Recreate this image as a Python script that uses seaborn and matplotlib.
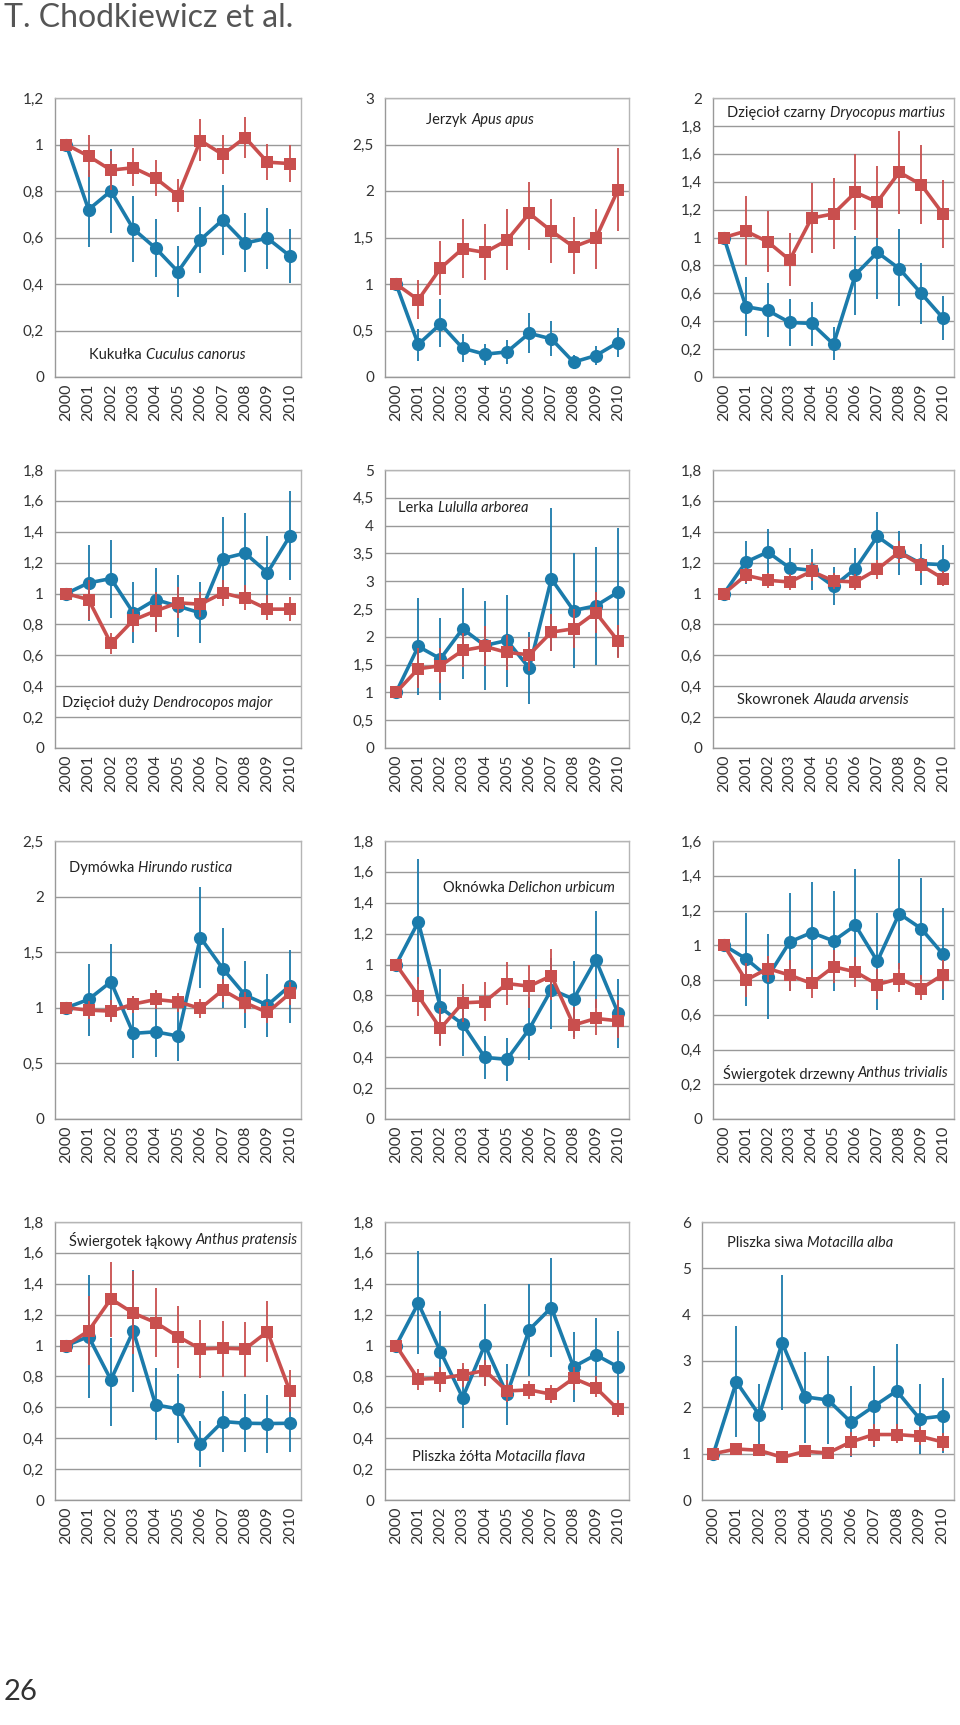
import numpy as np
import matplotlib
matplotlib.use("Agg")
import matplotlib.pyplot as plt
import seaborn as sns

# Years on the x axis
years = ["2000", "2001", "2002", "2003", "2004", "2005", "2006", "2007", "2008", "2009", "2010"]

# Kukułka Cuculus canorus
cuc_b = [1, 0.72, 0.80, 0.637, 0.554, 0.453, 0.59, 0.676, 0.576, 0.597, 0.521]
cuc_b_lo = [1, 0.558, 0.619, 0.496, 0.429, 0.345, 0.449, 0.525, 0.453, 0.465, 0.403]
cuc_b_hi = [1, 0.89, 0.98, 0.78, 0.679, 0.564, 0.73, 0.827, 0.705, 0.727, 0.637]
cuc_r = [1, 0.95, 0.89, 0.90, 0.855, 0.78, 1.017, 0.957, 1.03, 0.924, 0.918]
cuc_r_lo = [1, 0.86, 0.806, 0.823, 0.777, 0.708, 0.928, 0.875, 0.942, 0.846, 0.84]
cuc_r_hi = [1, 1.04, 0.974, 0.985, 0.935, 0.85, 1.108, 1.04, 1.12, 1.004, 0.999]

# Jerzyk Apus apus
apu_b = [1, 0.35, 0.57, 0.31, 0.245, 0.27, 0.47, 0.41, 0.16, 0.23, 0.37]
apu_b_lo = [1, 0.17, 0.32, 0.16, 0.126, 0.137, 0.253, 0.224, 0.09, 0.126, 0.21]
apu_b_hi = [1, 0.52, 0.84, 0.46, 0.36, 0.40, 0.686, 0.60, 0.235, 0.336, 0.53]
apu_r = [1, 0.83, 1.17, 1.38, 1.34, 1.47, 1.76, 1.57, 1.40, 1.49, 2.01]
apu_r_lo = [1, 0.62, 0.88, 1.065, 1.04, 1.15, 1.37, 1.227, 1.105, 1.16, 1.574]
apu_r_hi = [1, 1.047, 1.46, 1.70, 1.65, 1.805, 2.10, 1.91, 1.72, 1.81, 2.46]

# Dzięcioł czarny Dryocopus martius
dry_b = [1, 0.504, 0.477, 0.391, 0.384, 0.235, 0.734, 0.894, 0.777, 0.60, 0.422]
dry_b_lo = [1, 0.297, 0.288, 0.225, 0.225, 0.12, 0.448, 0.556, 0.508, 0.379, 0.264]
dry_b_hi = [1, 0.719, 0.671, 0.556, 0.54, 0.36, 1.014, 1.23, 1.06, 0.82, 0.58]
dry_r = [1, 1.046, 0.969, 0.839, 1.139, 1.17, 1.324, 1.254, 1.468, 1.379, 1.168]
dry_r_lo = [1, 0.803, 0.755, 0.652, 0.892, 0.918, 1.055, 0.995, 1.168, 1.098, 0.923]
dry_r_hi = [1, 1.295, 1.187, 1.031, 1.391, 1.424, 1.595, 1.516, 1.767, 1.662, 1.415]

# Dzięcioł duży Dendrocopos major
den_b = [1, 1.069, 1.097, 0.875, 0.961, 0.918, 0.875, 1.226, 1.262, 1.135, 1.372]
den_b_lo = [1, 0.82, 0.843, 0.682, 0.753, 0.72, 0.677, 0.96, 1.004, 0.892, 1.086]
den_b_hi = [1, 1.316, 1.344, 1.075, 1.166, 1.123, 1.075, 1.495, 1.52, 1.372, 1.662]
den_r = [1, 0.961, 0.677, 0.828, 0.888, 0.94, 0.931, 1.004, 0.968, 0.899, 0.899]
den_r_lo = [1, 0.83, 0.611, 0.753, 0.753, 0.84, 0.85, 0.92, 0.892, 0.828, 0.824]
den_r_hi = [1, 1.09, 0.742, 0.90, 1.01, 1.04, 1.01, 1.086, 1.054, 0.99, 0.978]

# Lerka Lululla arborea
lul_b = [1, 1.826, 1.605, 2.144, 1.844, 1.934, 1.437, 3.042, 2.473, 2.557, 2.802]
lul_b_lo = [1, 0.958, 0.856, 1.245, 1.048, 1.096, 0.79, 1.74, 1.437, 1.485, 1.63]
lul_b_hi = [1, 2.69, 2.335, 2.886, 2.647, 2.754, 2.084, 4.323, 3.515, 3.623, 3.964]
lul_r = [1, 1.425, 1.479, 1.754, 1.826, 1.719, 1.677, 2.084, 2.144, 2.437, 1.928]
lul_r_lo = [1, 1.08, 1.17, 1.45, 1.467, 1.407, 1.377, 1.737, 1.796, 2.066, 1.617]
lul_r_hi = [1, 1.80, 1.80, 2.07, 2.186, 2.036, 1.988, 2.407, 2.503, 2.802, 2.216]

# Skowronek Alauda arvensis
ala_b = [1, 1.204, 1.269, 1.166, 1.15, 1.047, 1.161, 1.37, 1.269, 1.194, 1.187]
ala_b_lo = [1, 1.065, 1.13, 1.04, 1.022, 0.925, 1.04, 1.215, 1.123, 1.058, 1.054]
ala_b_hi = [1, 1.338, 1.415, 1.295, 1.286, 1.172, 1.295, 1.531, 1.402, 1.32, 1.316]
ala_r = [1, 1.118, 1.086, 1.075, 1.144, 1.082, 1.075, 1.157, 1.269, 1.183, 1.097]
ala_r_lo = [1, 1.068, 1.036, 1.025, 1.084, 1.032, 1.025, 1.097, 1.199, 1.133, 1.047]
ala_r_hi = [1, 1.168, 1.136, 1.125, 1.204, 1.132, 1.125, 1.217, 1.339, 1.233, 1.147]

# Dymówka Hirundo rustica
hir_b = [1, 1.075, 1.234, 0.77, 0.784, 0.746, 1.632, 1.353, 1.114, 1.024, 1.198]
hir_b_lo = [1, 0.749, 0.88, 0.545, 0.56, 0.524, 1.174, 0.994, 0.814, 0.74, 0.859]
hir_b_hi = [1, 1.392, 1.578, 1.11, 1.159, 0.99, 2.087, 1.722, 1.419, 1.308, 1.518]
hir_r = [1, 0.979, 0.97, 1.033, 1.075, 1.054, 0.994, 1.159, 1.045, 0.958, 1.129]
hir_r_lo = [1, 0.90, 0.874, 0.95, 0.985, 0.964, 0.91, 1.054, 0.95, 0.859, 1.024]
hir_r_hi = [1, 1.06, 1.07, 1.11, 1.16, 1.135, 1.078, 1.257, 1.144, 1.054, 1.234]

# Oknówka Delichon urbicum
urb_b = [1, 1.276, 0.722, 0.614, 0.399, 0.386, 0.582, 0.838, 0.776, 1.032, 0.688]
urb_b_lo = [1, 0.877, 0.478, 0.409, 0.256, 0.248, 0.381, 0.582, 0.532, 0.72, 0.461]
urb_b_hi = [1, 1.685, 0.97, 0.834, 0.539, 0.526, 0.79, 1.04, 1.022, 1.345, 0.909]
urb_r = [1, 0.797, 0.586, 0.752, 0.759, 0.877, 0.86, 0.927, 0.608, 0.651, 0.636]
urb_r_lo = [1, 0.668, 0.474, 0.625, 0.634, 0.737, 0.72, 0.769, 0.515, 0.547, 0.522]
urb_r_hi = [1, 0.92, 0.72, 0.877, 0.888, 1.017, 0.996, 1.099, 0.726, 0.78, 0.77]

# Świergotek drzewny Anthus trivialis
tri_b = [1, 0.923, 0.818, 1.019, 1.073, 1.025, 1.115, 0.908, 1.182, 1.096, 0.948]
tri_b_lo = [1, 0.649, 0.575, 0.737, 0.789, 0.737, 0.793, 0.626, 0.866, 0.808, 0.684]
tri_b_hi = [1, 1.188, 1.063, 1.30, 1.364, 1.312, 1.437, 1.188, 1.494, 1.387, 1.215]
tri_r = [1, 0.799, 0.866, 0.828, 0.78, 0.876, 0.847, 0.774, 0.808, 0.751, 0.831]
tri_r_lo = [1, 0.70, 0.79, 0.737, 0.699, 0.78, 0.757, 0.69, 0.732, 0.684, 0.751]
tri_r_hi = [1, 0.90, 0.94, 0.914, 0.866, 0.97, 0.933, 0.866, 0.895, 0.828, 0.914]

# Świergotek łąkowy Anthus pratensis
pra_b = [1, 1.058, 0.778, 1.095, 0.616, 0.59, 0.363, 0.508, 0.497, 0.495, 0.497]
pra_b_lo = [1, 0.659, 0.482, 0.702, 0.389, 0.367, 0.216, 0.313, 0.309, 0.307, 0.309]
pra_b_hi = [1, 1.458, 1.05, 1.49, 0.853, 0.814, 0.512, 0.708, 0.687, 0.68, 0.68]
pra_r = [1, 1.095, 1.302, 1.21, 1.149, 1.058, 0.978, 0.983, 0.978, 1.09, 0.706]
pra_r_lo = [1, 0.875, 1.058, 0.944, 0.924, 0.857, 0.793, 0.799, 0.799, 0.892, 0.572]
pra_r_hi = [1, 1.32, 1.544, 1.484, 1.371, 1.259, 1.166, 1.162, 1.155, 1.289, 0.842]

# Pliszka żółta Motacilla flava
fla_b = [1, 1.274, 0.961, 0.663, 1.004, 0.685, 1.102, 1.246, 0.862, 0.94, 0.862]
fla_b_lo = [1, 0.944, 0.702, 0.469, 0.741, 0.486, 0.806, 0.924, 0.633, 0.702, 0.626]
fla_b_hi = [1, 1.609, 1.225, 0.857, 1.268, 0.879, 1.40, 1.57, 1.089, 1.177, 1.093]
fla_r = [1, 0.782, 0.788, 0.81, 0.838, 0.706, 0.713, 0.685, 0.788, 0.728, 0.587]
fla_r_lo = [1, 0.713, 0.698, 0.734, 0.741, 0.637, 0.654, 0.626, 0.713, 0.67, 0.54]
fla_r_hi = [1, 0.849, 0.864, 0.886, 0.907, 0.778, 0.773, 0.745, 0.864, 0.80, 0.648]

# Pliszka siwa Motacilla alba
alb_b = [1, 2.55, 1.833, 3.391, 2.225, 2.159, 1.681, 2.022, 2.355, 1.754, 1.812]
alb_b_lo = [1, 1.355, 1.16, 1.935, 1.232, 1.21, 0.92, 1.145, 1.341, 0.993, 1.014]
alb_b_hi = [1, 3.746, 2.5, 4.855, 3.188, 3.116, 2.464, 2.899, 3.37, 2.514, 2.623]
alb_r = [1, 1.101, 1.072, 0.92, 1.05, 1.014, 1.254, 1.413, 1.413, 1.377, 1.254]
alb_r_lo = [1, 1.0, 0.97, 0.86, 0.97, 0.944, 0.95, 1.16, 1.23, 1.18, 1.05]
alb_r_hi = [1, 1.2, 1.17, 0.98, 1.13, 1.084, 1.47, 1.63, 1.63, 1.58, 1.45]

# panel setup: (name, latin, blue, red, ymax, ystep, label x, label y)
panels = [
    ("Kukułka", "Cuculus canorus", (cuc_b, cuc_b_lo, cuc_b_hi), (cuc_r, cuc_r_lo, cuc_r_hi), 1.2, 0.2, 0.14, 0.08),
    ("Jerzyk", "Apus apus", (apu_b, apu_b_lo, apu_b_hi), (apu_r, apu_r_lo, apu_r_hi), 3, 0.5, 0.17, 0.92),
    ("Dzięcioł czarny", "Dryocopus martius", (dry_b, dry_b_lo, dry_b_hi), (dry_r, dry_r_lo, dry_r_hi), 2, 0.2, 0.06, 0.946),
    ("Dzięcioł duży", "Dendrocopos major", (den_b, den_b_lo, den_b_hi), (den_r, den_r_lo, den_r_hi), 1.8, 0.2, 0.03, 0.162),
    ("Lerka", "Lululla arborea", (lul_b, lul_b_lo, lul_b_hi), (lul_r, lul_r_lo, lul_r_hi), 5, 0.5, 0.055, 0.863),
    ("Skowronek", "Alauda arvensis", (ala_b, ala_b_lo, ala_b_hi), (ala_r, ala_r_lo, ala_r_hi), 1.8, 0.2, 0.10, 0.173),
    ("Dymówka", "Hirundo rustica", (hir_b, hir_b_lo, hir_b_hi), (hir_r, hir_r_lo, hir_r_hi), 2.5, 0.5, 0.055, 0.903),
    ("Oknówka", "Delichon urbicum", (urb_b, urb_b_lo, urb_b_hi), (urb_r, urb_r_lo, urb_r_hi), 1.8, 0.2, 0.237, 0.83),
    ("Świergotek drzewny", "Anthus trivialis", (tri_b, tri_b_lo, tri_b_hi), (tri_r, tri_r_lo, tri_r_hi), 1.6, 0.2, 0.04, 0.165),
    ("Świergotek łąkowy", "Anthus pratensis", (pra_b, pra_b_lo, pra_b_hi), (pra_r, pra_r_lo, pra_r_hi), 1.8, 0.2, 0.055, 0.935),
    ("Pliszka żółta", "Motacilla flava", (fla_b, fla_b_lo, fla_b_hi), (fla_r, fla_r_lo, fla_r_hi), 1.8, 0.2, 0.11, 0.155),
    ("Pliszka siwa", "Motacilla alba", (alb_b, alb_b_lo, alb_b_hi), (alb_r, alb_r_lo, alb_r_hi), 6, 1, 0.10, 0.925),
]

sns.set_style("white")
plt.rcParams['font.family'] = ['Lato', 'DejaVu Sans']

BLUE = "#1b7bab"
RED = "#c94f4e"
W, H = 960, 1725

# axes boxes in pixels (left, right, top, bottom)
cols = [(55, 301), (385, 629), (713, 954)]
rows = [(98, 377), (470, 748), (841, 1119), (1222, 1500)]


def fmt(v):
    return f"{v:g}".replace(".", ",")


fig = plt.figure(figsize=(W / 100, H / 100), dpi=100)
xpos = np.arange(len(years))

for i, (name, latin, blue, red, ymax, ystep, lx, ly) in enumerate(panels):
    l, r = cols[i % 3]
    t, b = rows[i // 3]
    if i == 11:
        l = 702
    ax = fig.add_axes([l / W, 1 - b / H, (r - l) / W, (b - t) / H])

    for (vals, lo, hi), c, m, ms, z in [(blue, BLUE, "o", 9.5, 3), (red, RED, "s", 8.5, 5)]:
        ax.vlines(xpos, lo, hi, color=c, lw=1.3, zorder=z)
        sns.lineplot(x=xpos, y=vals, ax=ax, color=c, marker=m, markersize=ms,
                     markeredgewidth=0, linewidth=2.6, legend=False, zorder=z + 1)

    ax.set_xlim(-0.5, 10.5)
    ax.set_ylim(0, ymax)
    yt = np.round(np.arange(0, ymax + ystep / 2, ystep), 2)
    ax.set_yticks(yt)
    ax.set_yticklabels([fmt(v) for v in yt])
    ax.set_xticks(xpos)
    ax.set_xticklabels(years, rotation=90)
    ax.set_xticks(np.arange(-0.5, 11, 1), minor=True)
    ax.tick_params(axis="x", which="major", length=0, pad=5, labelsize=11.5, labelcolor="#333")
    ax.tick_params(axis="x", which="minor", length=4, color="#999", width=1)
    ax.tick_params(axis="y", length=4, color="#999", width=1, pad=4, labelsize=11, labelcolor="#333")
    ax.yaxis.grid(True, color="#999", lw=1)
    ax.xaxis.grid(False)
    ax.set_axisbelow(True)
    for s in ax.spines.values():
        s.set_color("#b5b5b5")
        s.set_linewidth(1)
    ax.spines["bottom"].set_color("#999")
    ax.spines["left"].set_color("#999")
    ax.set_xlabel("")
    ax.set_ylabel("")

    # species name: Polish plain, Latin italic
    t1 = ax.text(lx, ly, name + " ", transform=ax.transAxes, va="center", ha="left",
                 fontsize=10.5, color="#222")
    ax.annotate(latin, xy=(1, 0.5), xycoords=t1, va="center", ha="left",
                fontsize=10.5, style="italic", color="#222")

fig.text(0.004, 1 - 18 / H, "T. Chodkiewicz et al.", fontsize=23, color="#555", va="center", ha="left")
fig.text(0.004, 1 - 1692 / H, "26", fontsize=21, color="#333", va="center", ha="left")

fig.savefig("out.png", dpi=100)
